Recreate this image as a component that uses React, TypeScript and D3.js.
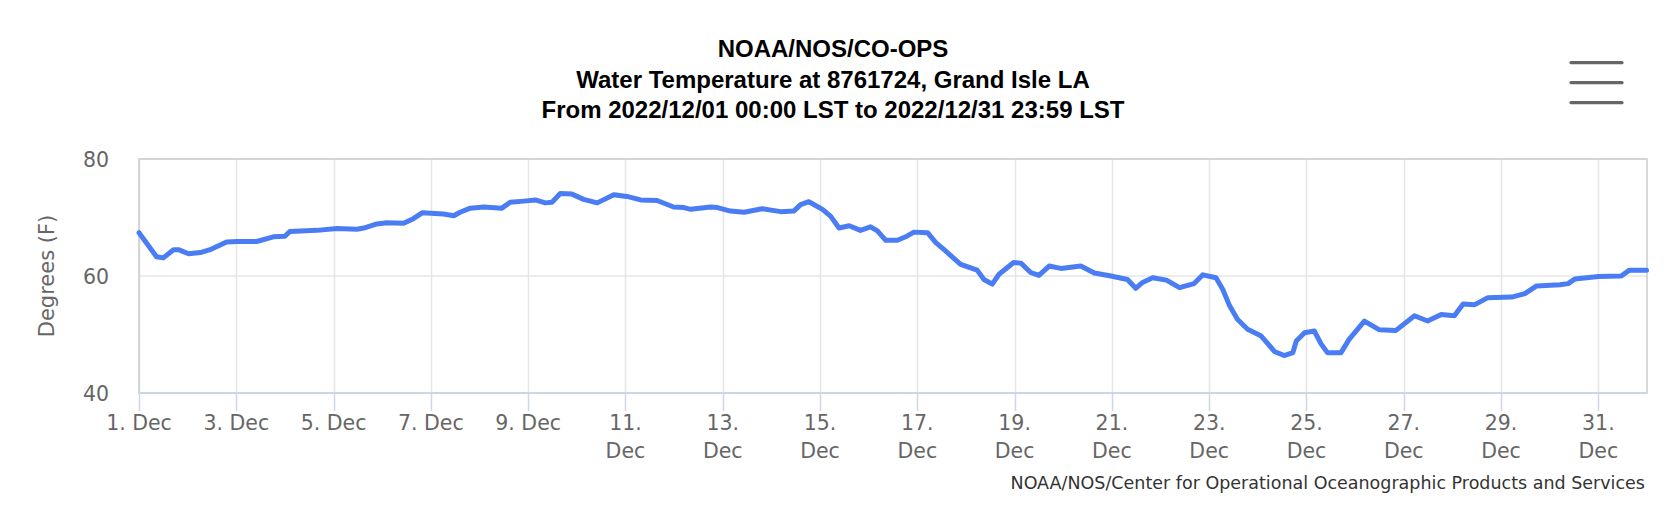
import React from "react";
import * as d3 from "d3";

// ---- data ----
const titleLines = [
  "NOAA/NOS/CO-OPS",
  "Water Temperature at 8761724, Grand Isle LA",
  "From 2022/12/01 00:00 LST to 2022/12/31 23:59 LST",
];
const yAxisTitle = "Degrees (F)";
const creditText = "NOAA/NOS/Center for Operational Oceanographic Products and Services";

// days elapsed since 2022-12-01 00:00 LST
const dayOffsets = [
  0, 0.36, 0.5, 0.71, 0.81, 1.02, 1.26, 1.46, 1.8, 2.02, 2.42, 2.76, 3.0, 3.1, 3.66, 4.07, 4.48, 4.62,
  4.89, 5.1, 5.44, 5.64, 5.82, 6.26, 6.47, 6.6, 6.81, 7.09, 7.46, 7.63, 7.91, 8.15, 8.35, 8.49, 8.66,
  8.9, 9.14, 9.42, 9.76, 10.03, 10.31, 10.65, 10.99, 11.2, 11.34, 11.75, 11.89, 12.16, 12.44, 12.81,
  13.19, 13.46, 13.6, 13.77, 14.05, 14.22, 14.39, 14.6, 14.83, 15.04, 15.18, 15.35, 15.59, 15.76,
  15.93, 16.21, 16.38, 16.55, 16.89, 17.23, 17.37, 17.54, 17.68, 17.98, 18.13, 18.33, 18.5, 18.71,
  18.95, 19.36, 19.64, 19.98, 20.32, 20.49, 20.63, 20.84, 21.12, 21.39, 21.69, 21.87, 22.14, 22.28,
  22.42, 22.58, 22.79, 23.06, 23.24, 23.34, 23.54, 23.72, 23.79, 23.96, 24.16, 24.3, 24.43, 24.71,
  24.88, 25.19, 25.5, 25.84, 26.22, 26.49, 26.77, 27.04, 27.22, 27.46, 27.73, 28.22, 28.49, 28.73,
  29.21, 29.38, 29.52, 30.0, 30.47, 30.64, 30.99,
];
const tempF = [
  67.4, 63.3, 63.1, 64.5, 64.5, 63.8, 64.0, 64.5, 65.8, 65.9, 65.9, 66.7, 66.8, 67.6, 67.8, 68.1, 68.0, 68.2,
  68.9, 69.1, 69.0, 69.8, 70.8, 70.6, 70.3, 70.9, 71.6, 71.8, 71.6, 72.6, 72.8, 73.0, 72.5, 72.6, 74.1,
  74.0, 73.1, 72.5, 73.9, 73.6, 73.0, 72.9, 71.8, 71.7, 71.4, 71.8, 71.7, 71.1, 70.9, 71.5,
  71.0, 71.1, 72.2, 72.7, 71.4, 70.2, 68.2, 68.6, 67.8, 68.4, 67.7, 66.1, 66.1, 66.7,
  67.5, 67.4, 65.7, 64.5, 62.0, 61.0, 59.4, 58.6, 60.3, 62.3, 62.2, 60.6, 60.1, 61.7,
  61.3, 61.7, 60.5, 60.0, 59.4, 57.9, 58.9, 59.7, 59.3, 58.0, 58.7, 60.2, 59.7, 57.7,
  54.9, 52.6, 50.9, 49.8, 48.1, 47.1, 46.4, 46.9, 48.9, 50.3, 50.6, 48.4, 46.9, 46.9,
  49.2, 52.3, 50.8, 50.7, 53.2, 52.3, 53.4, 53.2, 55.2, 55.1, 56.3, 56.4, 57.0, 58.3,
  58.5, 58.7, 59.5, 59.9, 60.0, 61.0, 61.0,
];

const tickDays = [1, 3, 5, 7, 9, 11, 13, 15, 17, 19, 21, 23, 25, 27, 29, 31];
const tickLabels = [
  "1. Dec", "3. Dec", "5. Dec", "7. Dec", "9. Dec", "11. Dec", "13. Dec", "15. Dec",
  "17. Dec", "19. Dec", "21. Dec", "23. Dec", "25. Dec", "27. Dec", "29. Dec", "31. Dec",
];
const yTicks = [40, 60, 80];

const DAY = 864e5;
const start = Date.UTC(2022, 11, 1);
const points = dayOffsets.map((d, i) => ({ t: new Date(start + d * DAY), v: tempF[i] }));

export default function App() {
  const W = 1666, H = 524;
  const left = 139, right = 1647, top = 159, bottom = 393;
  const x = d3.scaleUtc().domain([new Date(start), new Date(start + 31 * DAY)]).range([left, right]);
  const y = d3.scaleLinear().domain([40, 80]).range([bottom, top]);
  const line = d3.line<{ t: Date; v: number }>().x((p) => x(p.t)).y((p) => y(p.v));
  const font = "'DejaVu Sans', sans-serif";
  const labelColor = "#666666";

  return (
    <svg width={W} height={H} style={{ position: "absolute", left: 0, top: 0, display: "block" }}>
      <rect x={0} y={0} width={W} height={H} fill="#ffffff" />
      {/* title */}
      {titleLines.map((t, i) => (
        <text key={i} x={W / 2} y={57 + i * 30.5} textAnchor="middle"
          fontFamily="'Liberation Sans', Arial, sans-serif" fontWeight="bold" fontSize={24} fill="#000">
          {t}
        </text>
      ))}
      {/* menu icon */}
      {[62.7, 82.7, 102.7].map((yy, i) => (
        <line key={i} x1={1571} x2={1622} y1={yy} y2={yy} stroke="#666" strokeWidth={3.2} strokeLinecap="round" />
      ))}
      {/* vertical grid */}
      {tickDays.map((d, i) => {
        const xx = Math.round(x(new Date(start + (d - 1) * DAY))) + 0.5;
        return <line key={i} x1={xx} x2={xx} y1={top} y2={bottom} stroke="#e6e6e6" strokeWidth={1.5} />;
      })}
      {/* horizontal grid */}
      {yTicks.map((v, i) => (
        <line key={i} x1={left} x2={right} y1={y(v)} y2={y(v)} stroke="#e6e6e6" strokeWidth={1.5} />
      ))}
      {/* plot border */}
      <rect x={left} y={top} width={right - left} height={bottom - top} fill="none" stroke="#cccccc" strokeWidth={1.5} />
      {/* x axis line and ticks */}
      <line x1={left} x2={right} y1={bottom} y2={bottom} stroke="#ccd6eb" strokeWidth={1.5} />
      {tickDays.map((d, i) => {
        const xx = Math.round(x(new Date(start + (d - 1) * DAY))) + 0.5;
        return <line key={i} x1={xx} x2={xx} y1={bottom} y2={bottom + 18} stroke="#ccd6eb" strokeWidth={1.5} />;
      })}
      {/* x labels */}
      {tickDays.map((d, i) => {
        const xx = x(new Date(start + (d - 1) * DAY));
        const lbl = tickLabels[i];
        const lines = lbl.length > 6 ? lbl.split(" ") : [lbl];
        return (
          <text key={i} x={xx} y={430} textAnchor="middle" fontFamily={font} fontSize={20.5} fill={labelColor}>
            {lines.map((ln, j) => (
              <tspan key={j} x={xx} dy={j === 0 ? 0 : 27.5}>{ln}</tspan>
            ))}
          </text>
        );
      })}
      {/* y labels */}
      {yTicks.map((v, i) => (
        <text key={i} x={109} y={y(v) + 7.5} textAnchor="end" fontFamily={font} fontSize={20.5} fill={labelColor}>
          {v}
        </text>
      ))}
      {/* y axis title */}
      <text transform={`translate(54, ${(top + bottom) / 2}) rotate(-90)`} textAnchor="middle"
        fontFamily={font} fontSize={21} fill={labelColor}>
        {yAxisTitle}
      </text>
      {/* series */}
      <path d={line(points) || ""} fill="none" stroke="#4a7df4" strokeWidth={5} strokeLinejoin="round" strokeLinecap="round" />
      {/* credits */}
      <text x={1645} y={489} textAnchor="end" fontFamily={font} fontSize={17.5} fill="#333333">
        {creditText}
      </text>
    </svg>
  );
}
